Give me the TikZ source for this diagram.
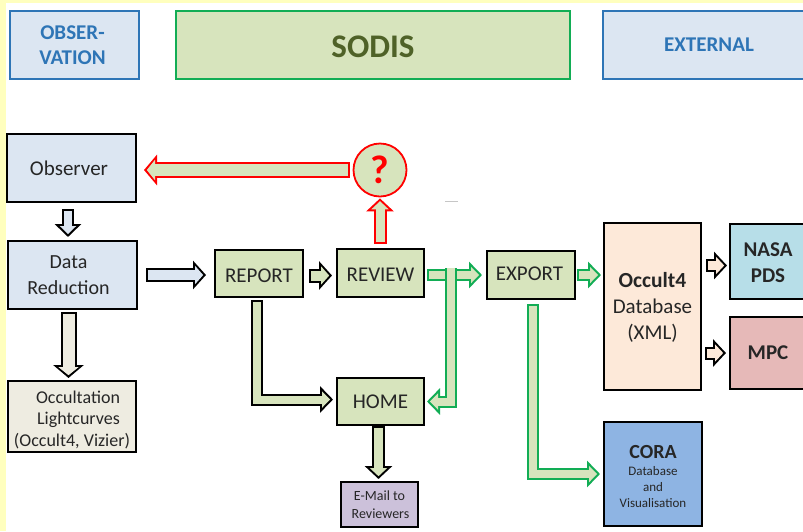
\documentclass[tikz,border=0pt]{standalone}
\usepackage{fontspec}
\setmainfont{Carlito}
\usetikzlibrary{arrows.meta}
\definecolor{blueline}{HTML}{2E75B6}
\definecolor{greenline}{HTML}{12AD55}
\definecolor{bluefill}{HTML}{DCE6F2}
\definecolor{greenfill}{HTML}{D7E4BD}
\definecolor{sodistext}{HTML}{4F6228}
\definecolor{creamfill}{HTML}{EEECE1}
\definecolor{peachfill}{HTML}{FDE9D9}
\definecolor{nasafill}{HTML}{B7DEE8}
\definecolor{mpcfill}{HTML}{E6B9B8}
\definecolor{corafill}{HTML}{8EB4E3}
\definecolor{mailfill}{HTML}{CCC1DA}
\definecolor{margin}{HTML}{FFFFBE}
\definecolor{textgray}{HTML}{262626}
\def\gapin{0}\def\gapout{0}\def\capb{2}
\tikzset{
  gap in/.store in=\gapin,
  gap out/.store in=\gapout,
  open start/.code={\def\capb{0}},
  box/.style={draw=black,line width=2pt,rectangle,align=center,text=textgray,inner sep=0pt},
  head/.style={box,draw=blueline,line width=1.8pt,minimum height=68,font=\fontsize{21}{25}\selectfont\bfseries,text=blueline},
  blockarrow/.style n args={3}{line join=miter,
    preaction={draw=#1,line width=#3pt,shorten <=\gapin pt,shorten >=\gapout pt,
      -{Triangle[length=13pt,width=#3pt+14pt]}},
    postaction={draw=#2,line width=#3pt-4pt,shorten <=\gapin pt+\capb pt,shorten >=\gapout pt+2.8pt,
      -{Triangle[length=8.2pt,width=#3pt+4pt]}}}
}
\begin{document}
\begin{tikzpicture}[x=1pt,y=-1pt]
\useasboundingbox (0,0) rectangle (803,531);
\fill[margin] (0,0) rectangle (803,531);
\fill[white] (6,3) rectangle (803,531);

\node (observation) at (74.5,45) [head,fill=bluefill,minimum width=129]{\hspace*{-4pt}OBSER-\\\hspace*{-4pt}VATION};
\node (sodis) at (373,45) [head,draw=greenline,fill=greenfill,minimum width=394,text=sodistext,font=\fontsize{33}{36}\selectfont\bfseries,text height=25pt]{SODIS};
\node (external) at (709,45) [head,fill=bluefill,minimum width=212]{EXTERNAL};

\node (observer) at (71.5,168) [box,fill=bluefill,minimum width=129,minimum height=68,font=\fontsize{21}{25}\selectfont]{\hspace*{-5pt}Observer};
\node (dred) at (72.5,275) [box,fill=bluefill,minimum width=129,minimum height=68,font=\fontsize{20}{25.5}\selectfont]{\hspace*{-8pt}Data\\\hspace*{-8pt}Reduction};
\node (curves) at (72,416.5) [box,fill=creamfill,minimum width=128,minimum height=71,font=\fontsize{18}{21.5}\selectfont]{\rule{0pt}{19pt}\hspace*{12pt}Occultation\\\hspace*{13pt}Lightcurves\\(Occult4, Vizier)};

\node (report) at (259,273.5) [box,fill=greenfill,minimum width=88,minimum height=47,font=\fontsize{21}{25}\selectfont,text height=17.5pt]{REPORT};
\node (review) at (380.5,273) [box,fill=greenfill,minimum width=87,minimum height=48,font=\fontsize{21}{25}\selectfont,text height=17.5pt]{REVIEW};
\node (home) at (380.5,401.5) [box,fill=greenfill,minimum width=87,minimum height=47,font=\fontsize{21}{25}\selectfont]{HOME};
\node (export) at (531,275) [box,fill=greenfill,minimum width=88,minimum height=48,font=\fontsize{21}{25}\selectfont,text depth=2pt]{\hspace*{-3pt}EXPORT};
\node (mail) at (379.5,504.5) [box,fill=mailfill,minimum width=77,minimum height=45,font=\fontsize{14}{18}\selectfont]{E-Mail to\\\hspace*{2pt}Reviewers};
\node (query) at (380,170) [circle,draw=red,line width=1.8pt,fill=greenfill,minimum size=53,inner sep=0pt,text=red,font=\fontsize{40}{40}\selectfont\bfseries]{?};

\node (occult) at (652.5,306.5) [box,fill=peachfill,minimum width=97,minimum height=167,font=\fontsize{21}{26}\selectfont]{\rule{0pt}{17pt}{\fontsize{21.5}{26}\selectfont\bfseries Occult4}\\Database\\(XML)};
\node (nasa) at (768,261.5) [box,fill=nasafill,minimum width=76,minimum height=75,font=\fontsize{21}{26}\selectfont\bfseries]{\rule{0pt}{16pt}NASA\\PDS};
\node (mpc) at (768,353) [box,fill=mpcfill,minimum width=76,minimum height=72,font=\fontsize{21}{26}\selectfont\bfseries]{MPC};
\node (cora) at (653,474) [box,fill=corafill,minimum width=98,minimum height=104,font=\fontsize{13}{16}\selectfont]{\rule{0pt}{19pt}{\fontsize{20}{22}\selectfont\bfseries CORA}\\[1pt]Database\\and\\Visualisation};

\coordinate (branch) at (451,268);

\path[blockarrow={black}{bluefill}{12},gap in=6,gap out=3] ([xshift=-3.5]observer.south)--([xshift=-3.5]observer.south |- dred.north);
\path[blockarrow={black}{bluefill}{14},gap in=8,gap out=8] (dred.east)--(dred.east -| report.west);
\path[blockarrow={black}{creamfill}{16},gap in=2,gap out=2] ([xshift=-4]dred.south)--([xshift=-4]dred.south |- curves.north);
\path[blockarrow={black}{greenfill}{14},gap in=5,gap out=4] ([yshift=-2]report.east)--([yshift=-2]report.east -| review.west);
\path[blockarrow={black}{greenfill}{12},gap in=2,gap out=3] ([xshift=-2]report.south) |- ([yshift=2]home.west);
\path[blockarrow={black}{greenfill}{13},gap out=2] ([xshift=-2]home.south)--([xshift=-2]home.south |- mail.north);

\path[blockarrow={red}{greenfill}{13},gap in=4,gap out=1] (review.north -| query.south)--(query.south);
\path[blockarrow={red}{greenfill}{16},gap in=3,gap out=7] (query.west)--(query.west -| observer.east);

\path[blockarrow={greenline}{greenfill}{12},gap in=2,gap out=4] ([yshift=-2]review.east)--([yshift=-2]review.east -| export.west);
\path[blockarrow={greenline}{greenfill}{12},open start,gap out=2] (branch) |- (home.east);
\path[blockarrow={greenline}{greenfill}{12},gap in=1,gap out=2] (export.east)--(export.east -| occult.west);
\path[blockarrow={greenline}{greenfill}{12},gap in=4,gap out=3] ([xshift=2]export.south) |- (cora.west);

\path[blockarrow={black}{peachfill}{13},gap in=4,gap out=2] ([yshift=-4]nasa.west -| occult.east)--([yshift=-4]nasa.west);
\path[blockarrow={black}{peachfill}{13},gap in=3,gap out=3] (mpc.west -| occult.east)--(mpc.west);

\draw[gray!45,line width=0.5pt] (445,201)--(458,201);
\end{tikzpicture}
\end{document}
